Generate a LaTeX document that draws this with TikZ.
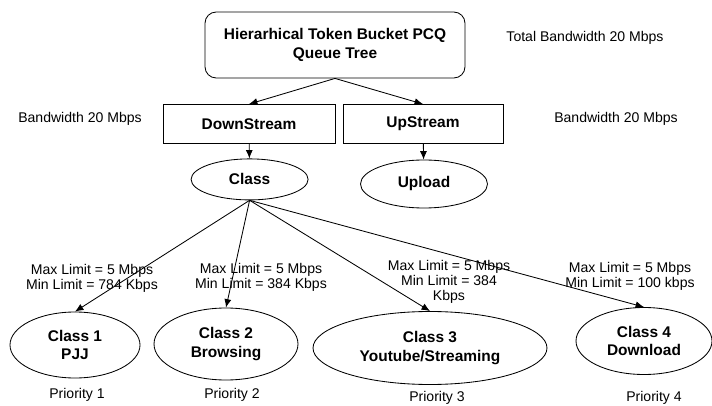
\documentclass[tikz,border=0pt]{standalone}
\usepackage{fontspec}
\setmainfont{Liberation Sans}
\usetikzlibrary{arrows.meta,shapes}

\begin{document}
\begin{tikzpicture}[>={Latex[length=6pt,width=5pt]},line width=0.6pt,
    boxtext/.style={font=\fontsize{11}{13}\selectfont\bfseries,align=center,inner sep=0pt},
    note/.style={font=\fontsize{10}{10.5}\selectfont,align=center,inner sep=0pt},
    classnode/.style={boxtext,draw,ellipse}]
            \useasboundingbox (0,0) rectangle (17.8,10.125);
            % tree nodes
            \node[boxtext,draw,rounded corners=8pt,minimum width=6.5cm,minimum height=1.65cm] (root) at (8.375,9.0) {Hierarhical Token Bucket PCQ\\Queue Tree};
            \node[boxtext,draw,minimum width=4.3cm,minimum height=0.975cm] (down) at (6.225,7.025) {DownStream};
            \node[boxtext,draw,minimum width=4.0cm,minimum height=0.975cm] (up) at (10.575,7.025) {UpStream};
            \node[classnode,minimum width=2.925cm,minimum height=1.025cm] (class) at (6.24,5.64) {Class};
            \node[classnode,minimum width=3.175cm,minimum height=1.2cm] (upload) at (10.6,5.525) {Upload};
            \node[classnode,minimum width=3.25cm,minimum height=1.65cm] (c1) at (1.875,1.5) {Class 1\\PJJ};
            \node[classnode,minimum width=3.6cm,minimum height=1.8cm] (c2) at (5.65,1.525) {Class 2\\Browsing};
            \node[classnode,minimum width=5.85cm,minimum height=1.825cm] (c3) at (10.75,1.425) {Class 3\\Youtube/Streaming};
            \node[classnode,minimum width=3.4cm,minimum height=1.675cm] (c4) at (16.1,1.6) {Class 4\\Download};
            % connectors
            \draw[->] (root.south)--(down.north);
            \draw[->] (root.south)--(up.north);
            \draw[->] (down)--(class);
            \draw[->] (up)--(upload);
            \foreach \c in {c1,c2,c3,c4}{
                \draw[->] (class.south)--(\c.north);
            }
            % side notes
            \node[note] (total) at (14.625,9.175) {Total Bandwidth 20 Mbps};
            \node[note] (bwdown) at (2.0,7.15) {Bandwidth 20 Mbps};
            \node[note] (bwup) at (15.4,7.15) {Bandwidth 20 Mbps};
            \node[note] (lim1) at (2.3,3.175) {Max Limit = 5 Mbps\\Min Limit = 784 Kbps};
            \node[note] (lim2) at (6.525,3.2) {Max Limit = 5 Mbps\\Min Limit = 384 Kbps};
            \node[note] (lim3) at (11.225,3.075) {Max Limit = 5 Mbps\\Min Limit = 384\\Kbps};
            \node[note] (lim4) at (15.75,3.225) {Max Limit = 5 Mbps\\Min Limit = 100 kbps};
            \node[note] (p1) at (1.925,0.25) {Priority 1};
            \node[note] (p2) at (5.8,0.25) {Priority 2};
            \node[note] (p3) at (10.925,0.175) {Priority 3};
            \node[note] (p4) at (16.35,0.175) {Priority 4};
\end{tikzpicture}
\end{document}
